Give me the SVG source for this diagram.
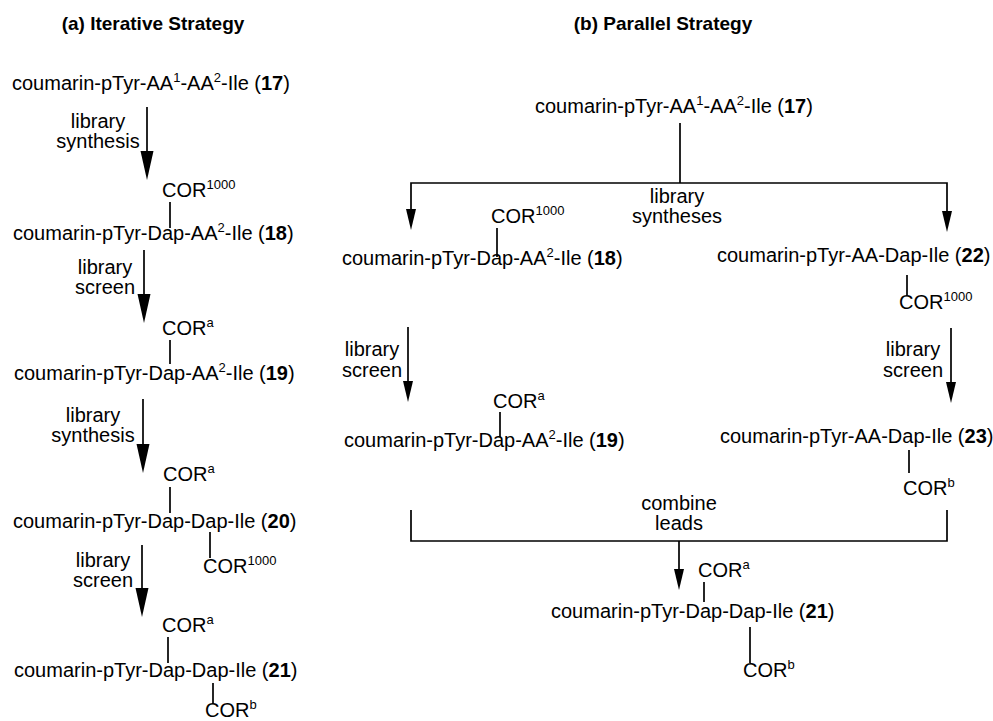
<svg xmlns="http://www.w3.org/2000/svg" width="993" height="721" viewBox="0 0 993 721">
<style>
text{font-family:"Liberation Sans",Arial,sans-serif;font-size:20px;fill:#000}
.title{font-weight:bold;font-size:19px;text-anchor:middle}
.lbl{text-anchor:middle}
.b{font-weight:bold}
.s{font-size:13px}
.ln{stroke:#000;stroke-width:1.7;fill:none}
.hd{fill:#000;stroke:none}
</style>
<rect width="993" height="721" fill="#fff"/>
<g id="titles">
<text class="title" x="153" y="30">(a) Iterative Strategy</text>
<text class="title" x="663" y="30">(b) Parallel Strategy</text>
</g>
<g id="connectors">
<line class="ln" x1="147" y1="107" x2="147" y2="156"/><polygon class="hd" points="140.5,151 153.5,151 147,180"/>
<line class="ln" x1="144" y1="250" x2="144" y2="299"/><polygon class="hd" points="137.5,294 150.5,294 144,323"/>
<line class="ln" x1="143" y1="399" x2="143" y2="449"/><polygon class="hd" points="136.5,444 149.5,444 143,473"/>
<line class="ln" x1="142" y1="545" x2="142" y2="593"/><polygon class="hd" points="135.5,588 148.5,588 142,617"/>
<line class="ln" x1="170" y1="202" x2="170" y2="228"/>
<line class="ln" x1="170" y1="340" x2="170" y2="364"/>
<line class="ln" x1="170" y1="487" x2="170" y2="513"/>
<line class="ln" x1="210" y1="532" x2="210" y2="558"/>
<line class="ln" x1="168" y1="637" x2="168" y2="663"/>
<line class="ln" x1="213" y1="683" x2="213" y2="704"/>
<line class="ln" x1="680" y1="123" x2="680" y2="183"/>
<polyline class="ln" points="411,211 411,183 947,183 947,213"/>
<polygon class="hd" points="406,209 416,209 411,230"/>
<polygon class="hd" points="942,211 952,211 947,232"/>
<line class="ln" x1="497" y1="228" x2="497" y2="257"/>
<line class="ln" x1="907" y1="275" x2="907" y2="295"/>
<line class="ln" x1="408" y1="327" x2="408" y2="384"/><polygon class="hd" points="403,381 413,381 408,402"/>
<line class="ln" x1="951" y1="328" x2="951" y2="385"/><polygon class="hd" points="946,382 956,382 951,403"/>
<line class="ln" x1="500" y1="412" x2="500" y2="437"/>
<line class="ln" x1="909" y1="450" x2="909" y2="473"/>
<polyline class="ln" points="411,510 411,541 947,541 947,510"/>
<line class="ln" x1="679" y1="541" x2="679" y2="572"/><polygon class="hd" points="674,569 684,569 679,590"/>
<line class="ln" x1="704" y1="582" x2="704" y2="602"/>
<line class="ln" x1="750" y1="627" x2="750" y2="663"/>
</g>
<g id="labels">
<text class="lbl" x="98" y="128">library</text><text class="lbl" x="98" y="148">synthesis</text>
<text class="lbl" x="105" y="274">library</text><text class="lbl" x="105" y="294">screen</text>
<text class="lbl" x="93" y="422">library</text><text class="lbl" x="93" y="442">synthesis</text>
<text class="lbl" x="103" y="567">library</text><text class="lbl" x="103" y="587">screen</text>
<text class="lbl" x="677" y="203">library</text><text class="lbl" x="677" y="223">syntheses</text>
<text class="lbl" x="372" y="356">library</text><text class="lbl" x="372" y="377">screen</text>
<text class="lbl" x="913" y="356">library</text><text class="lbl" x="913" y="377">screen</text>
<text class="lbl" x="679" y="510">combine</text><text class="lbl" x="679" y="530">leads</text>
</g>
<g id="a17"><text x="12" y="90">coumarin-pTyr-AA<tspan class="s" dy="-8">1</tspan><tspan dy="8">-AA</tspan><tspan class="s" dy="-8">2</tspan><tspan dy="8">-Ile (</tspan><tspan class="b">17</tspan>)</text></g>
<g id="a18">
<text x="162" y="197">COR<tspan class="s" dy="-8">1000</tspan></text>
<text x="13" y="240">coumarin-pTyr-Dap-AA<tspan class="s" dy="-8">2</tspan><tspan dy="8">-Ile (</tspan><tspan class="b">18</tspan>)</text>
</g>
<g id="a19">
<text x="162" y="335">COR<tspan class="s" dy="-8">a</tspan></text>
<text x="14" y="380">coumarin-pTyr-Dap-AA<tspan class="s" dy="-8">2</tspan><tspan dy="8">-Ile (</tspan><tspan class="b">19</tspan>)</text>
</g>
<g id="a20">
<text x="163" y="481">COR<tspan class="s" dy="-8">a</tspan></text>
<text x="13" y="528">coumarin-pTyr-Dap-Dap-Ile (<tspan class="b">20</tspan>)</text>
<text x="203" y="573">COR<tspan class="s" dy="-8">1000</tspan></text>
</g>
<g id="a21">
<text x="162" y="632">COR<tspan class="s" dy="-8">a</tspan></text>
<text x="14" y="677">coumarin-pTyr-Dap-Dap-Ile (<tspan class="b">21</tspan>)</text>
<text x="205" y="717">COR<tspan class="s" dy="-8">b</tspan></text>
</g>
<g id="b17"><text x="535" y="113">coumarin-pTyr-AA<tspan class="s" dy="-8">1</tspan><tspan dy="8">-AA</tspan><tspan class="s" dy="-8">2</tspan><tspan dy="8">-Ile (</tspan><tspan class="b">17</tspan>)</text></g>
<g id="b18">
<text x="491" y="223">COR<tspan class="s" dy="-8">1000</tspan></text>
<text x="342" y="265">coumarin-pTyr-Dap-AA<tspan class="s" dy="-8">2</tspan><tspan dy="8">-Ile (</tspan><tspan class="b">18</tspan>)</text>
</g>
<g id="b22">
<text x="717" y="262">coumarin-pTyr-AA-Dap-Ile (<tspan class="b">22</tspan>)</text>
<text x="899" y="309">COR<tspan class="s" dy="-8">1000</tspan></text>
</g>
<g id="b19">
<text x="493" y="408">COR<tspan class="s" dy="-8">a</tspan></text>
<text x="344" y="447">coumarin-pTyr-Dap-AA<tspan class="s" dy="-8">2</tspan><tspan dy="8">-Ile (</tspan><tspan class="b">19</tspan>)</text>
</g>
<g id="b23">
<text x="720" y="443">coumarin-pTyr-AA-Dap-Ile (<tspan class="b">23</tspan>)</text>
<text x="903" y="495">COR<tspan class="s" dy="-8">b</tspan></text>
</g>
<g id="b21">
<text x="698" y="577">COR<tspan class="s" dy="-8">a</tspan></text>
<text x="551" y="618">coumarin-pTyr-Dap-Dap-Ile (<tspan class="b">21</tspan>)</text>
<text x="743" y="677">COR<tspan class="s" dy="-8">b</tspan></text>
</g>
</svg>
